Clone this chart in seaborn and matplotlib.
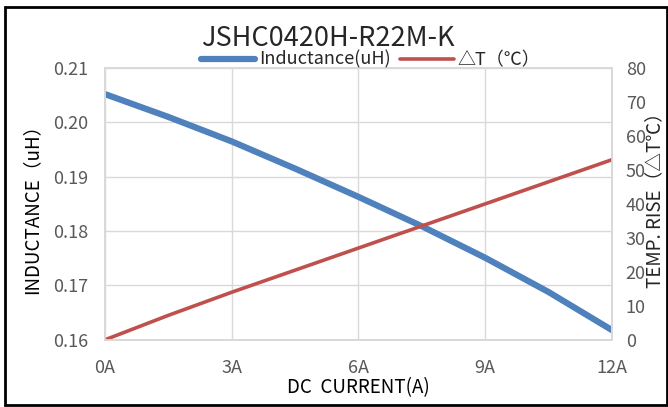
import matplotlib.pyplot as plt
import seaborn as sns
import pandas as pd

sns.set_theme(style="white")
plt.rcParams['font.family'] = ['Noto Sans CJK SC', 'DejaVu Sans']

current = [0, 1.5, 3, 4.5, 6, 7.5, 9, 10.5, 12]
inductance = [0.2052, 0.2010, 0.1965, 0.1915, 0.1863, 0.1809, 0.1751, 0.1688, 0.1618]
temp_rise = [0, 7.2, 14, 20.5, 27, 33.5, 40, 46.5, 53]
x_ticks = [0, 3, 6, 9, 12]
x_labels = ['0A', '3A', '6A', '9A', '12A']

df = pd.DataFrame({'I': current, 'L': inductance, 'T': temp_rise})
blue = '#4F81BD'
red = '#C0504D'

fig, ax = plt.subplots(figsize=(6.68, 4.07), dpi=100)
fig.subplots_adjust(left=0.157, right=0.916, top=0.833, bottom=0.165)
ax2 = ax.twinx()

sns.lineplot(data=df, x='I', y='L', ax=ax, color=blue, linewidth=4.5, label='Inductance(uH)', legend=False)
sns.lineplot(data=df, x='I', y='T', ax=ax2, color=red, linewidth=2.6, label='△T（℃）', legend=False)

ax.set_xlim(0, 12)
ax.set_ylim(0.16, 0.21)
ax2.set_ylim(0, 80)
ax.set_xticks(x_ticks)
ax.set_xticklabels(x_labels)
ax.set_yticks([0.16, 0.17, 0.18, 0.19, 0.20, 0.21])
ax.set_yticklabels(['0.16', '0.17', '0.18', '0.19', '0.20', '0.21'])
ax2.set_yticks(range(0, 81, 10))

ax.grid(True, color='#d9d9d9', linewidth=1)
ax.set_axisbelow(True)
for a in (ax, ax2):
    for s in a.spines.values():
        s.set_color('#d9d9d9')
    a.tick_params(length=0, labelsize=13, colors='#595959')
ax.tick_params(axis='x', pad=14)
ax.tick_params(axis='y', pad=12)
ax2.tick_params(axis='y', pad=10)

ax.set_xlabel('DC  CURRENT(A)', fontsize=13.5, color='black', labelpad=0)
ax.set_ylabel('INDUCTANCE（uH）', fontsize=13.5, color='black', labelpad=8)
ax2.set_ylabel('')
fig.text(0.98, 0.52, 'TEMP. RISE（△T℃）', rotation=90, fontsize=13.5, ha='center', va='center')

fig.suptitle('JSHC0420H-R22M-K', fontsize=19.5, x=0.49, y=0.905, va='center')
h1, l1 = ax.get_legend_handles_labels()
h2, l2 = ax2.get_legend_handles_labels()
fig.legend(h1 + h2, l1 + l2, loc='center', bbox_to_anchor=(0.555, 0.853), ncol=2,
           frameon=False, fontsize=13, handlelength=3, columnspacing=0.5, handletextpad=0.2)

fig.patches.append(plt.Rectangle((0.008, 0.004), 0.99, 0.978, transform=fig.transFigure,
                                 fill=False, edgecolor='black', linewidth=2))
fig.savefig('out.png', dpi=100)
